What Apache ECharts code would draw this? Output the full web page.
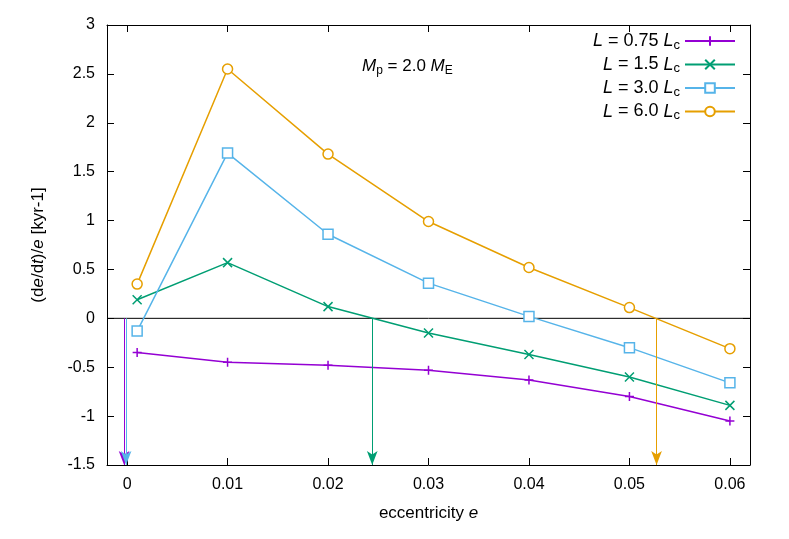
<!DOCTYPE html><html><head><meta charset="utf-8">
<script src="https://cdn.jsdelivr.net/npm/echarts@6/dist/echarts.min.js"></script>
<style>body{margin:0}#c{width:789px;height:539px}</style></head><body><div id="c"></div>
<script>
const ecc=[0.001,0.01,0.02,0.03,0.04,0.05,0.06];
const L075=[-0.35,-0.45,-0.48,-0.53,-0.63,-0.80,-1.05];
const L15=[0.19,0.57,0.12,-0.15,-0.37,-0.60,-0.89];
const L30=[-0.13,1.69,0.86,0.36,0.02,-0.30,-0.66];
const L60=[0.35,2.55,1.68,0.99,0.52,0.11,-0.31];
const xTicks=[0,0.01,0.02,0.03,0.04,0.05,0.06];
const yTicks=[-1.5,-1,-0.5,0,0.5,1,1.5,2,2.5,3];
const arrows=[[-0.0003,'#9400d3'],[-0.0001,'#56b4e9'],[0.0244,'#009e73'],[0.0527,'#e69f00']];
const names=['L075','L15','L30','L60'];
const colors=['#9400d3','#009e73','#56b4e9','#e69f00'];
const syms=['path://M0,5L10,5M5,0L5,10','path://M0,0L10,10M10,0L0,10','rect','circle'];
const vals=[L075,L15,L30,L60];
const labs={L075:'{i|L} = 0.75 {i|L}{s|c}',L15:'{i|L} = 1.5 {i|L}{s|c}',L30:'{i|L} = 3.0 {i|L}{s|c}',L60:'{i|L} = 6.0 {i|L}{s|c}'};
const F='Liberation Sans';
const series=vals.map((v,k)=>({name:names[k],type:'line',data:ecc.map((e,i)=>[e,v[i]]),
 symbol:syms[k],symbolSize:k>1?10:9,showAllSymbol:true,
 lineStyle:{color:colors[k],width:1.5},
 itemStyle:{color:k>1?'#fff':colors[k],borderColor:colors[k],borderWidth:1.5},z:3}));
series.push({type:'line',data:[],markLine:{silent:true,symbol:['none','arrow'],symbolSize:[8,14],label:{show:false},
 data:arrows.map(a=>[{coord:[a[0],0],lineStyle:{color:a[1],width:1,type:'solid'}},{coord:[a[0],-1.5]}])}});
series.push({type:'line',data:[[-0.002,0],[0.062,0]],symbol:'none',lineStyle:{color:'#000',width:1},z:2});
const axisCommon={axisLine:{onZero:false,lineStyle:{color:'#000',width:1}},splitLine:{show:false}};
const opt={animation:false,
 grid:{left:107,right:39,top:25,bottom:74},
 legend:{top:27,right:48,orient:'vertical',align:'right',itemWidth:50,itemHeight:12,itemGap:4,
  data:names,formatter:n=>labs[n],
  textStyle:{fontFamily:F,fontSize:18,color:'#000',rich:{i:{fontStyle:'italic',fontSize:18,fontFamily:F},s:{fontSize:13,padding:[8,0,0,0],fontFamily:F}}}},
 graphic:[{type:'text',left:362,top:58,style:{text:'{i|M}{s|p} = 2.0 {i|M}{s|E}',font:'17px '+F,fill:'#000',
  rich:{i:{fontStyle:'italic',fontSize:17,fontFamily:F},s:{fontSize:12,padding:[8,0,0,0],fontFamily:F}}}}],
 xAxis:[{type:'value',min:-0.002,max:0.062,...axisCommon,
  axisTick:{inside:true,length:7,customValues:xTicks,lineStyle:{color:'#000'}},
  axisLabel:{customValues:xTicks,fontFamily:F,fontSize:16,color:'#000',margin:12,formatter:v=>String(+v.toFixed(3))},
  name:'eccentricity {i|e}',nameLocation:'middle',nameGap:40,
  nameTextStyle:{fontFamily:F,fontSize:17,color:'#000',rich:{i:{fontStyle:'italic',fontFamily:F,fontSize:17}}}},
  {type:'value',position:'top',min:-0.002,max:0.062,...axisCommon,axisTick:{inside:true,length:7,customValues:xTicks,lineStyle:{color:'#000'}},axisLabel:{show:false}}],
 yAxis:[{type:'value',min:-1.5,max:3,interval:0.5,...axisCommon,
  axisTick:{inside:true,length:7,lineStyle:{color:'#000'}},
  axisLabel:{fontFamily:F,fontSize:16,color:'#000',margin:12},
  name:'(d{i|e}/d{i|t})/{i|e} [kyr{s|-1}]',nameLocation:'middle',nameGap:60,
  nameTextStyle:{fontFamily:F,fontSize:17,color:'#000',rich:{i:{fontStyle:'italic',fontFamily:F,fontSize:17}}}},
  {type:'value',position:'right',min:-1.5,max:3,interval:0.5,...axisCommon,axisTick:{inside:true,length:7,lineStyle:{color:'#000'}},axisLabel:{show:false}}],
 series};
echarts.init(document.getElementById('c')).setOption(opt);
</script></body></html>
